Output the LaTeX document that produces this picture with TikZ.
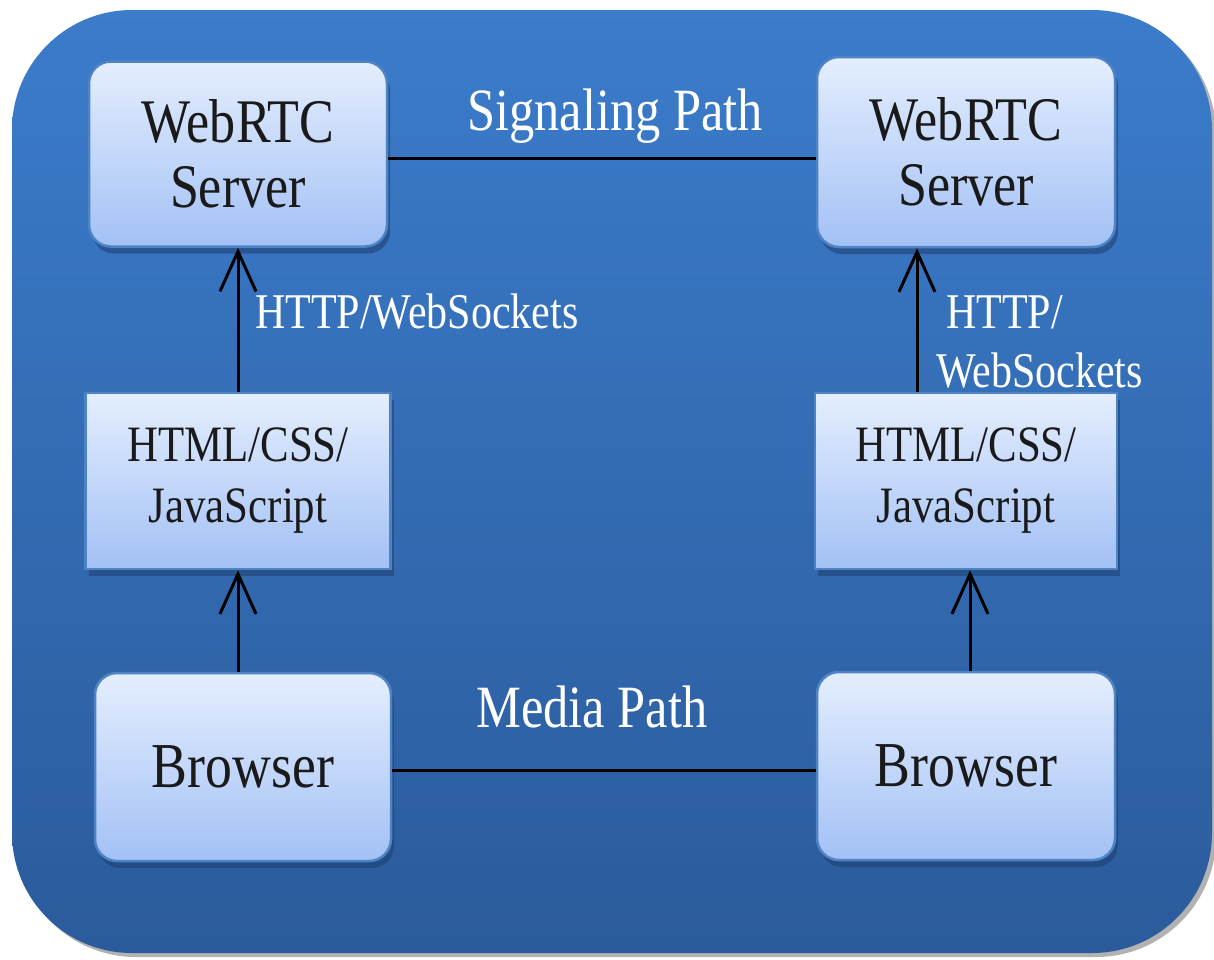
\documentclass[tikz,border=0pt]{standalone}
\usepackage{fontspec}
\newfontfamily\tfont[FakeStretch=0.84]{Liberation Serif}
\usetikzlibrary{arrows.meta,shadows,calc}
\definecolor{bgtop}{HTML}{3B7CCB}
\definecolor{bgbot}{HTML}{2B5B9B}
\definecolor{boxtop}{HTML}{E4EEFE}
\definecolor{boxbot}{HTML}{A3C1F5}
\definecolor{boxedge}{HTML}{4E84C6}
\definecolor{shadowc}{HTML}{1E3F6E}
\definecolor{txt}{HTML}{1A1A1A}
\begin{document}
\begin{tikzpicture}[x=1pt,y=-1pt,
  box/.style={draw=boxedge, line width=2.5pt, top color=boxtop, bottom color=boxbot,
    align=center, text=txt, inner sep=0pt,
    drop shadow={shadow xshift=3pt, shadow yshift=-7pt, fill=shadowc, opacity=0.55}},
  rbox/.style={box, rounded corners=22pt},
  sbox/.style={box},
  srvfont/.style={font=\tfont\fontsize{62}{65}\selectfont},
  webfont/.style={font=\tfont\fontsize{51}{61}\selectfont},
  brfont/.style={font=\tfont\fontsize{64}{70}\selectfont},
  lbl/.style={text=white, inner sep=0pt, font=\tfont\fontsize{60}{66}\selectfont},
  slbl/.style={text=white, inner sep=0pt, align=left, font=\tfont\fontsize{50}{59}\selectfont},
  conn/.style={draw=black, line width=3pt},
  arr/.style={conn, -{Straight Barb[length=40pt, width=36pt, line width=3pt]}}
]
\useasboundingbox (0,0) rectangle (1214,959);
\fill[white] (0,0) rectangle (1214,959);
\path[rounded corners=120pt, top color=bgtop, bottom color=bgbot,
  drop shadow={shadow xshift=4pt, shadow yshift=-4pt, fill=black, opacity=0.3}]
  (12,10) rectangle (1212,953);

% boxes
\node[rbox, srvfont, minimum width=298pt, minimum height=185pt] (s1) at (238,154) {WebRTC\\Server};
\node[rbox, srvfont, minimum width=298pt, minimum height=190pt] (s2) at (966,152) {WebRTC\\Server};
\node[sbox, webfont, minimum width=305pt, minimum height=176pt] (h1) at (238,481) {HTML/CSS/\\JavaScript};
\node[sbox, webfont, minimum width=302pt, minimum height=176pt] (h2) at (966,481) {HTML/CSS/\\JavaScript};
\node[rbox, brfont, minimum width=296pt, minimum height=188pt] (b1) at (243,767) {Browser};
\node[rbox, brfont, minimum width=298pt, minimum height=188pt] (b2) at (966,766) {Browser};

% connectors
\draw[conn] ([yshift=-4pt]s1.east) -- ([yshift=-6pt]s2.west);
\draw[conn] ([yshift=-3pt]b1.east) -- ([yshift=-4pt]b2.west);
\draw[arr] (h1.north) -- (s1.south);
\draw[arr] (b1.north -| h1.south) -- (h1.south);
\draw[arr] ([xshift=-49pt]h2.north) -- ([xshift=-49pt]s2.south);
\draw[arr] ([xshift=4pt]b2.north) -- ([xshift=4pt]h2.south);

% labels
\node[lbl, anchor=base] (sig) at (615,130) {Signaling Path};
\node[lbl, anchor=base] (med) at (592,727) {Media Path};
\node[slbl, anchor=base west] (w1) at (255,328) {HTTP/WebSockets};
\node[slbl, anchor=base west] (w2a) at (946,328) {HTTP/};
\node[slbl, anchor=base west] (w2b) at (936,387) {WebSockets};
\end{tikzpicture}
\end{document}
